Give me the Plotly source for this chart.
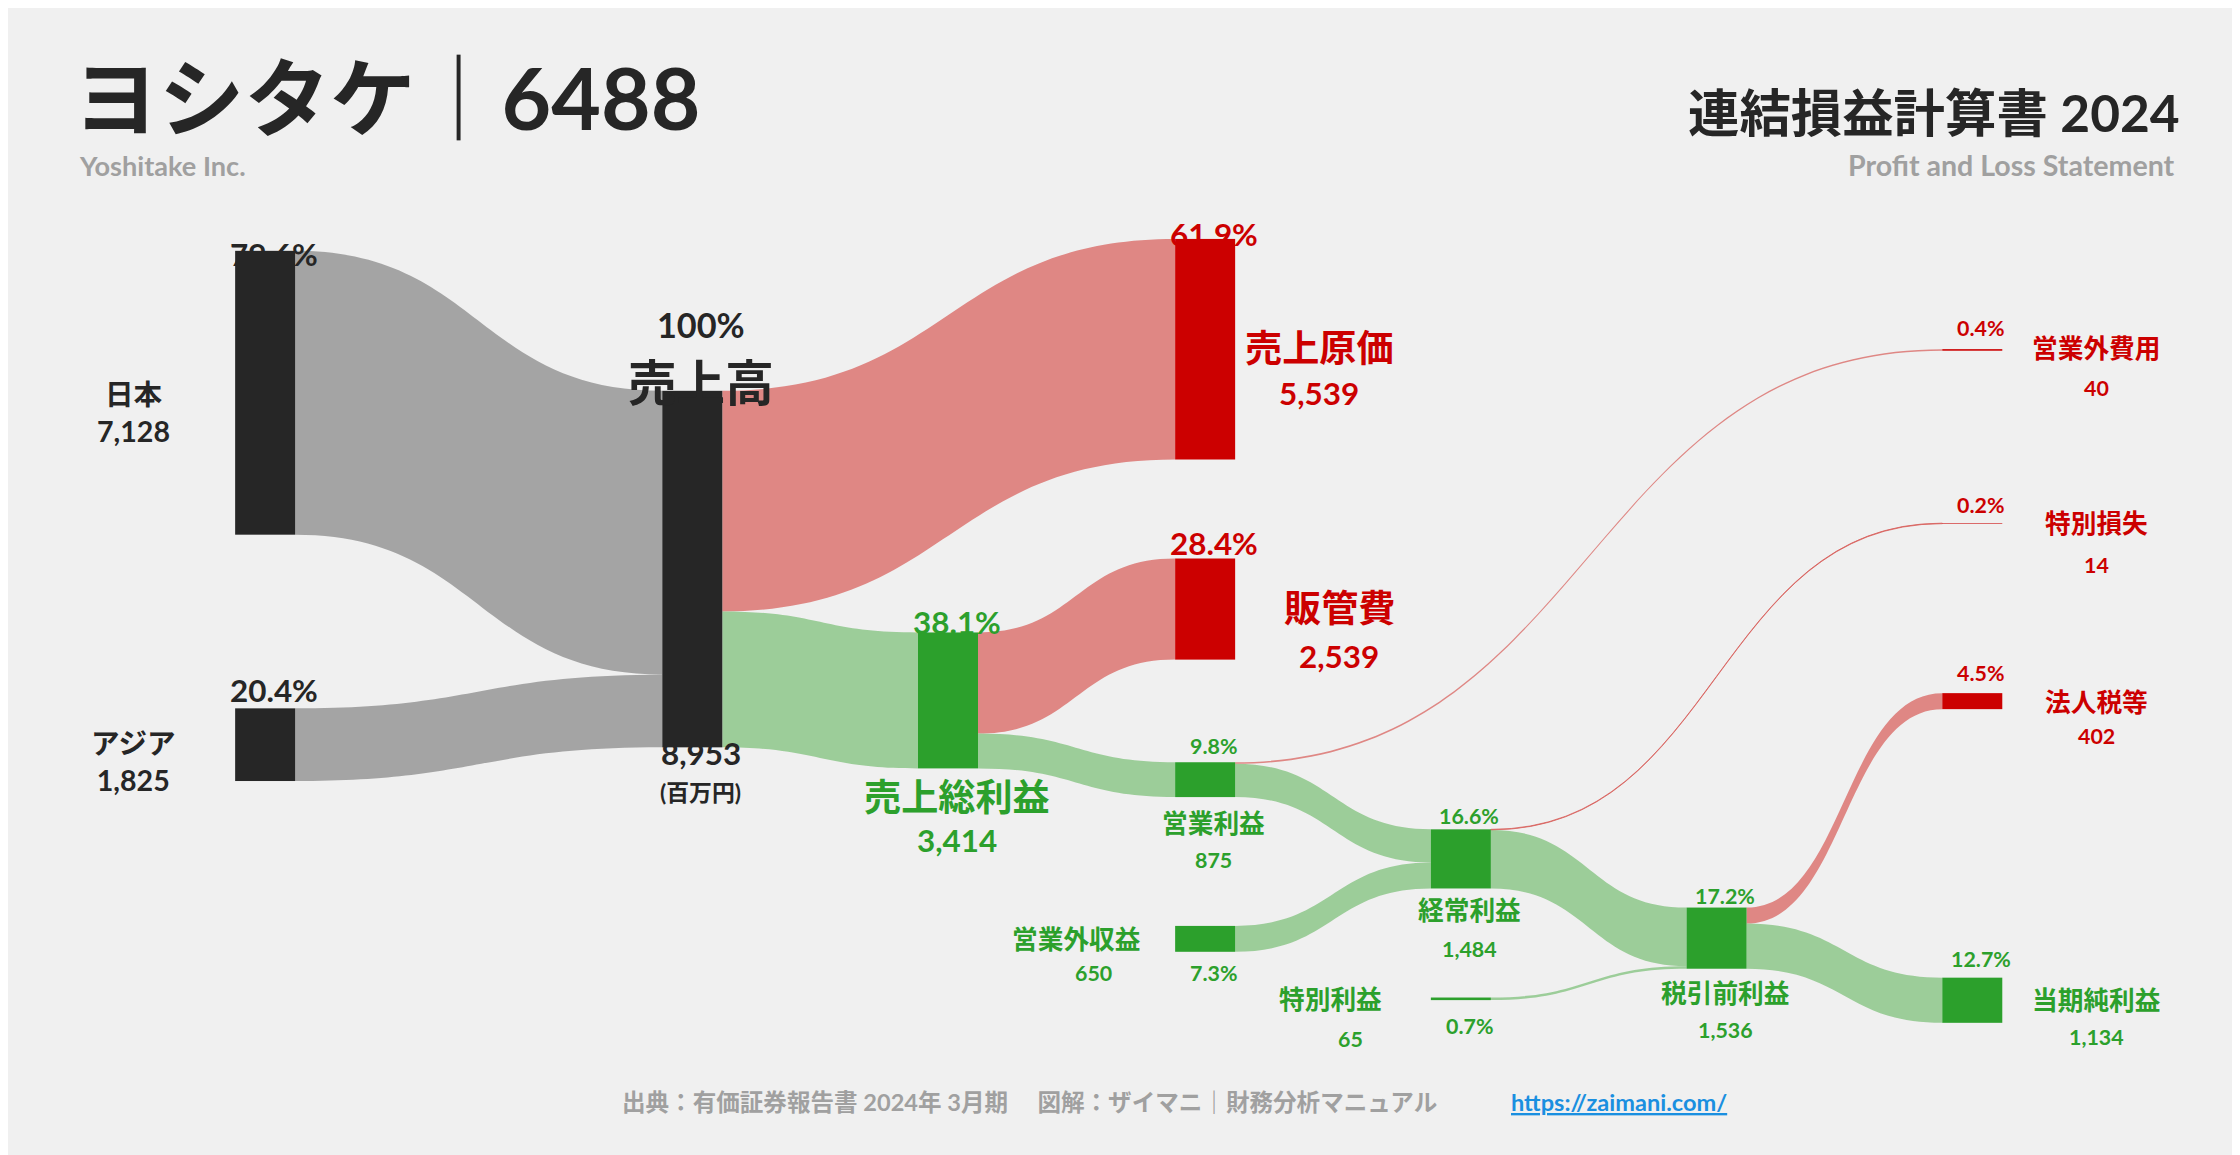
import plotly.graph_objects as go

# ---- data ----
node_names = ["日本", "アジア", "売上高", "売上原価", "売上総利益", "販管費", "営業利益",
              "営業外収益", "経常利益", "営業外費用", "特別損失", "特別利益", "税引前利益",
              "法人税等", "当期純利益"]
node_values = [7128, 1825, 8953, 5539, 3414, 2539, 875, 650, 1484, 40, 14, 65, 1536, 402, 1134]
link_src = [0, 1, 2, 2, 4, 4, 6, 7, 6, 8, 11, 8, 12, 12]
link_tgt = [2, 2, 3, 4, 5, 6, 8, 8, 9, 12, 12, 10, 13, 14]
link_val = [7128, 1825, 5539, 3414, 2539, 875, 835, 650, 40, 1471, 65, 14, 402, 1134]
TOTAL = 8953

W, H = 1568.0, 809.0
DARK, RED, GREEN = "#262626", "#cc0000", "#2ca02c"
GRAY_L, RED_L, GREEN_L = "rgba(150,150,150,0.85)", "rgba(215,90,85,0.7)", "rgba(120,190,115,0.7)"
X = lambda p: p / W
Y = lambda p: p / H

node_px = [(186, 269.5), (186, 516), (485, 393), (844, 239), (664, 485), (844, 421), (844, 540.5),
           (844, 652), (1023, 596), (1381, 239.5), (1381, 361), (1023, 694), (1202, 651.5),
           (1381, 485.5), (1381, 695)]
XSHIFT = -6
node_col = [DARK, DARK, DARK, RED, GREEN, RED, GREEN, GREEN, GREEN, RED, RED, GREEN, GREEN, RED, GREEN]
link_col = []
for t in link_tgt:
    c = node_col[t]
    link_col.append(GRAY_L if c == DARK else (RED_L if c == RED else GREEN_L))

fig = go.Figure(go.Sankey(
    arrangement="fixed",
    domain=dict(x=[0, 1], y=[0, 1]),
    node=dict(label=[""] * len(node_names), x=[X(p[0] + XSHIFT) for p in node_px],
              y=[Y(p[1]) for p in node_px],
              color=node_col, thickness=60, pad=191, line=dict(width=0)),
    link=dict(source=link_src, target=link_tgt, value=link_val, color=link_col),
    hoverinfo="skip",
))

F = "Lato, 'Noto Sans CJK JP', sans-serif"
S = 1.4286
ann = []
def T(x, y, text, color, size, xa="center", bold=True):
    ann.append(dict(x=X(x), y=1 - Y(y), xref="paper", yref="paper", text=f"<b>{text}</b>" if bold else text,
                    showarrow=False, xanchor=xa, yanchor="middle",
                    font=dict(family=F, size=size * S, color=color)))

pct = lambda i: f"{node_values[i] / TOTAL * 100:.1f}%"
num = lambda i: f"{node_values[i]:,}"

T(186, 172, pct(0), DARK, 22); T(88, 283, f"日本<br>{num(0)}", DARK, 20)
T(186, 478, pct(1), DARK, 22); T(88, 528, f"アジア<br>{num(1)}", DARK, 20)
T(485, 222, "100%", DARK, 24); T(485, 262, "売上高", DARK, 34)
T(485, 522, num(2), DARK, 22); T(485, 549, "(百万円)", DARK, 16)
T(844, 158, pct(3), RED, 22); T(918, 238, "売上原価", RED, 26); T(918, 270, num(3), RED, 22)
T(664, 430, pct(4), GREEN, 22); T(664, 552, "売上総利益", GREEN, 26); T(664, 583, num(4), GREEN, 22)
T(844, 375, pct(5), RED, 22); T(932, 420, "販管費", RED, 26); T(932, 454, num(5), RED, 22)
T(844, 517, pct(6), GREEN, 15); T(844, 571, "営業利益", GREEN, 18); T(844, 597, num(6), GREEN, 15)
T(748, 652, "営業外収益", GREEN, 18); T(760, 676, num(7), GREEN, 15); T(844, 676, pct(7), GREEN, 15)
T(1023, 566, pct(8), GREEN, 15); T(1023, 632, "経常利益", GREEN, 18); T(1023, 659, num(8), GREEN, 15)
T(1381, 224, pct(9), RED, 15); T(1462, 238, "営業外費用", RED, 18); T(1462, 266, num(9), RED, 15)
T(1381, 348, pct(10), RED, 15); T(1462, 361, "特別損失", RED, 18); T(1462, 390, num(10), RED, 15)
T(926, 694, "特別利益", GREEN, 18); T(940, 722, num(11), GREEN, 15); T(1023, 713, pct(11), GREEN, 15)
T(1202, 622, pct(12), GREEN, 15); T(1202, 690, "税引前利益", GREEN, 18); T(1202, 716, num(12), GREEN, 15)
T(1381, 466, pct(13), RED, 15); T(1462, 486, "法人税等", RED, 18); T(1462, 510, num(13), RED, 15)
T(1381, 666, pct(14), GREEN, 15); T(1462, 695, "当期純利益", GREEN, 18); T(1462, 721, num(14), GREEN, 15)

T(44, 62, "ヨシタケ｜6488", DARK, 60, xa="left")
T(48, 110, "Yoshitake Inc.", "#a0a0a0", 19, xa="left")
T(1522, 73, "連結損益計算書 2024", DARK, 36, xa="right")
T(1518, 110, "Profit and Loss Statement", "#a0a0a0", 20, xa="right")
T(715, 766, "出典：有価証券報告書 2024年 3月期　 図解：ザイマニ｜財務分析マニュアル", "#a0a0a0", 16.5)
T(1128, 766, "<u>https://zaimani.com/</u>", "#1a8fe0", 16.5)

fig.update_layout(annotations=ann, width=2240, height=1155, margin=dict(l=0, r=0, t=0, b=0),
                  paper_bgcolor="#f0f0f0", plot_bgcolor="#f0f0f0")
fig.write_html("out.html")
